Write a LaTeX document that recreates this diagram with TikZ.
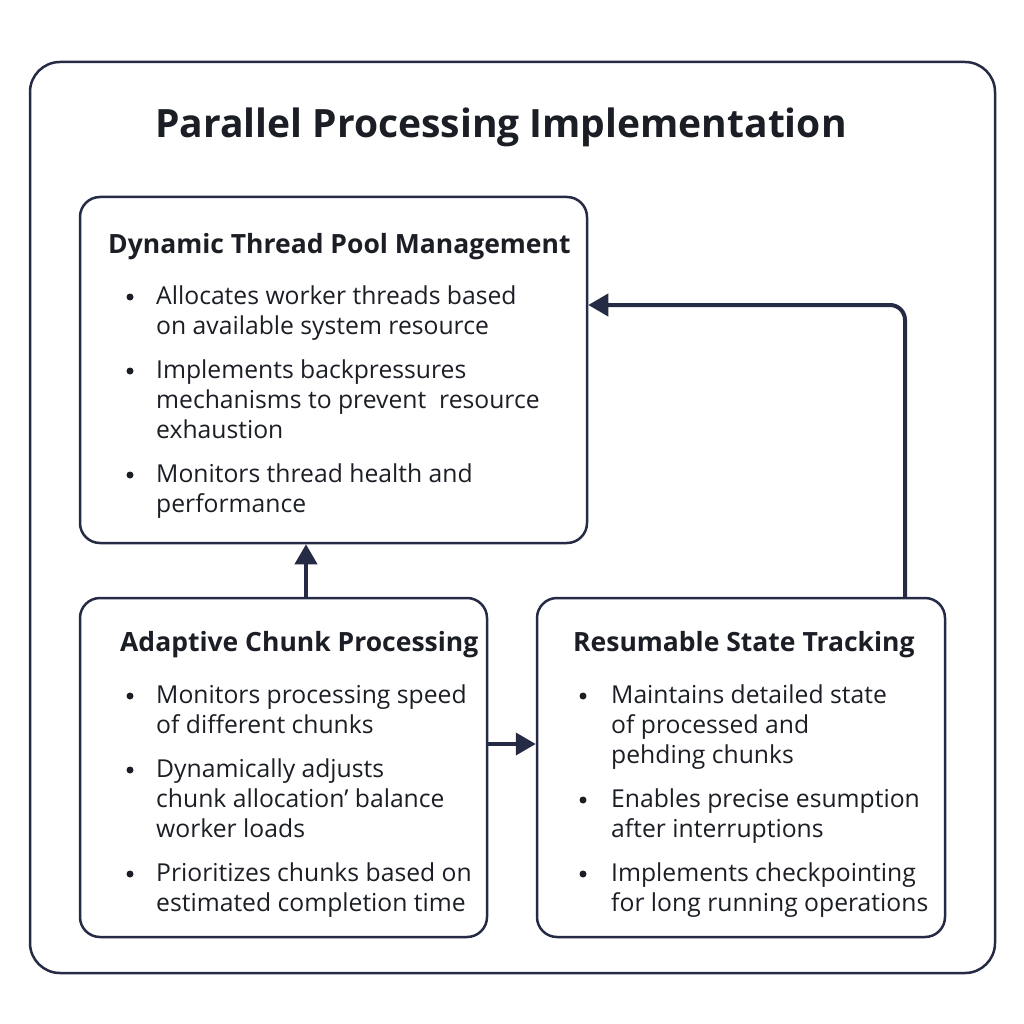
\documentclass[tikz,border=0pt]{standalone}
\usepackage{fontspec}
\setmainfont{Open Sans}
\usetikzlibrary{arrows.meta}
\definecolor{ink}{HTML}{262B45}
\definecolor{txt}{HTML}{1C1E26}
\tikzset{
  panel/.style={draw=ink, line width=2.5pt, rounded corners=20pt, inner sep=0pt},
  arr/.style={draw=ink, line width=4pt, -{Triangle[width=22pt,length=20pt]}},
  head/.style={anchor=base west, inner sep=0pt, text=txt, font=\fontsize{26.5}{30}\selectfont\bfseries},
  line/.style={anchor=base west, inner sep=0pt, text=txt, font=\fontsize{24.7}{30}\selectfont},
  dot/.style={circle, fill=txt, inner sep=0pt, minimum size=7pt},
}
\begin{document}
\begin{tikzpicture}[x=1pt,y=-1pt]
  \useasboundingbox (0,0) rectangle (1024,1024);
  \draw[ink, line width=2.5pt, rounded corners=30pt] (30,62) rectangle (995,973);
  \node[inner sep=0pt, text=txt, font=\fontsize{39}{44}\selectfont\bfseries] (title) at (501,127) {Parallel Processing Implementation};

  % the three boxes
  \node[panel, minimum width=507pt, minimum height=346pt] (pool) at (333.5,370) {};
  \node[panel, minimum width=407pt, minimum height=339pt] (chunk) at (283.5,767.5) {};
  \node[panel, minimum width=408pt, minimum height=339pt] (state) at (741,767.5) {};

  % Dynamic Thread Pool Management
  \draw (108,253) node[head] (poolh) {Dynamic Thread Pool Management}
    (156,304) node[line] (pool1) {Allocates worker threads based}
    (156,334) node[line] (pool2) {on available system resource}
    (156,378) node[line] (pool3) {Implements backpressures}
    (156,408) node[line] (pool4) {mechanisms to prevent\ \ resource}
    (156,438) node[line] (pool5) {exhaustion}
    (156,482) node[line] (pool6) {Monitors thread health and}
    (156,512) node[line] (pool7) {performance};
  \foreach \y [count=\i] in {297,371,475}
    \node[dot] (pooldot\i) at (130,\y) {};

  % Adaptive Chunk Processing
  \draw (120,651) node[head] (chunkh) {Adaptive Chunk Processing}
    (156,703) node[line] (chunk1) {Monitors processing speed}
    (156,733) node[line] (chunk2) {of different chunks}
    (156,777) node[line] (chunk3) {Dynamically adjusts}
    (156,807) node[line] (chunk4) {chunk allocation’ balance}
    (156,837) node[line] (chunk5) {worker loads}
    (156,881) node[line] (chunk6) {Prioritizes chunks based on}
    (156,911) node[line] (chunk7) {estimated completion time};
  \foreach \y [count=\i] in {696,770,874}
    \node[dot] (chunkdot\i) at (130,\y) {};

  % Resumable State Tracking
  \draw (573,651) node[head] (stateh) {Resumable State Tracking}
    (611,703) node[line] (state1) {Maintains detailed state}
    (611,733) node[line] (state2) {of processed and}
    (611,763) node[line] (state3) {pehding chunks}
    (611,807) node[line] (state4) {Enables precise esumption}
    (611,837) node[line] (state5) {after interruptions}
    (611,881) node[line] (state6) {Implements checkpointing}
    (611,911) node[line] (state7) {for long running operations};
  \foreach \y [count=\i] in {696,800,874}
    \node[dot] (statedot\i) at (583,\y) {};

  % connectors
  \draw[arr] ([xshift=22.5pt]chunk.north) -- ([xshift=22.5pt]chunk.north |- pool.south);
  \draw[arr] ([yshift=23.5pt]chunk.east) -- ([yshift=23.5pt]chunk.east -| state.west);
  \draw[arr, rounded corners=15pt] ([xshift=164pt]state.north) |- ([yshift=65pt]pool.east);
\end{tikzpicture}
\end{document}
